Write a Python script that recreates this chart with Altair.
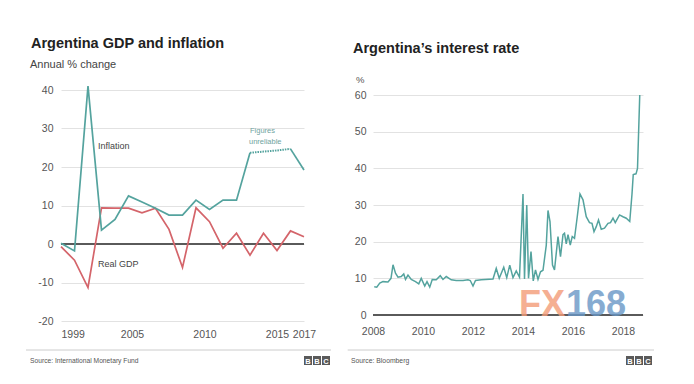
import altair as alt
import pandas as pd

# ---------------- data ----------------
gdp_years = list(range(1999, 2018))
inflation = [0.2, -1.8, 41.0, 3.6, 6.4, 12.5, 10.9, 9.3, 7.5, 7.5, 11.4, 9.0,
             11.4, 11.4, 23.7, 24.0, 24.3, 24.7, 19.2]
real_gdp = [-0.7, -4.2, -11.3, 9.4, 9.3, 9.3, 8.1, 9.3, 3.8, -6.1, 9.4, 5.8,
            -1.1, 2.8, -2.9, 2.8, -1.7, 3.4, 1.9]
unreliable_start, unreliable_end = 2013, 2016

rate_dates = [2008.05, 2008.15, 2008.27, 2008.4, 2008.6, 2008.72, 2008.8, 2008.9,
              2009.0, 2009.13, 2009.23, 2009.3, 2009.4, 2009.53, 2009.7, 2009.83,
              2009.93, 2010.07, 2010.16, 2010.27, 2010.37, 2010.53, 2010.69, 2010.8,
              2010.93, 2011.13, 2011.33, 2011.6, 2011.8, 2011.89, 2012.0, 2012.1,
              2012.33, 2012.8, 2012.93, 2013.05, 2013.23, 2013.35, 2013.47, 2013.6,
              2013.73, 2013.86, 2014.0, 2014.06, 2014.15, 2014.22, 2014.32, 2014.41,
              2014.5, 2014.6, 2014.7, 2014.8, 2014.93, 2015.0, 2015.08, 2015.18,
              2015.26, 2015.4, 2015.5, 2015.6, 2015.66, 2015.73, 2015.8, 2015.89,
              2015.97, 2016.06, 2016.17, 2016.28, 2016.4, 2016.53, 2016.66, 2016.76,
              2016.84, 2016.93, 2017.02, 2017.13, 2017.26, 2017.4, 2017.5, 2017.6,
              2017.69, 2017.86, 2018.0, 2018.13, 2018.27, 2018.36, 2018.41, 2018.52,
              2018.58, 2018.67]
rate_values = [7.7, 7.6, 8.7, 9.1, 9.0, 10.0, 13.7, 11.4,
               10.3, 10.5, 11.2, 9.7, 10.9, 9.7, 9.1, 8.5,
               10.0, 7.9, 9.1, 7.6, 9.7, 9.6, 10.7, 9.7,
               10.5, 9.6, 9.4, 9.4, 9.6, 9.4, 7.9, 9.4,
               9.6, 9.8, 12.7, 10.0, 13.0, 10.2, 13.6, 10.2,
               12.0, 10.3, 33.0, 9.8, 30.0, 10.0, 17.3, 9.3,
               12.3, 9.7, 11.8, 12.2, 19.0, 28.5, 25.5, 13.6,
               12.3, 21.4, 15.9, 21.9, 22.3, 19.4, 21.9, 19.1,
               21.4, 20.9, 26.8, 33.0, 31.4, 26.8, 25.2, 25.0,
               22.7, 24.1, 25.9, 23.4, 23.7, 25.0, 25.2, 26.4,
               25.2, 27.3, 26.8, 26.4, 25.5, 33.0, 38.3, 38.5,
               40.0, 60.0]

gdp_ticks_x = [1999, 2005, 2010, 2015, 2017]
gdp_ticks_y = [-20, -10, 0, 10, 20, 30, 40]
rate_ticks_x = [2008, 2010, 2012, 2014, 2016, 2018]
rate_ticks_y = [0, 10, 20, 30, 40, 50, 60]

# ---------------- styles ----------------
FONT = "Liberation Sans, Arial, sans-serif"
TEAL = "#54a39e"
RED = "#d4646a"
GRID = "#e2e2e2"
ZERO = "#5a5a5a"

gdp_df = pd.DataFrame({"year": gdp_years, "value": real_gdp})
inf_rows = []
for y, v in zip(gdp_years, inflation):
    if y <= unreliable_start:
        inf_rows.append({"year": y, "value": v, "seg": "a", "style": "solid"})
    if y >= unreliable_end:
        inf_rows.append({"year": y, "value": v, "seg": "b", "style": "solid"})
    if unreliable_start <= y <= unreliable_end:
        inf_rows.append({"year": y, "value": v, "seg": "c", "style": "dotted"})
inf_df = pd.DataFrame(inf_rows)
rate_df = pd.DataFrame({"date": rate_dates, "value": rate_values})
zero_df = pd.DataFrame({"value": [0]})


def label(text, x, y, size=10, color="#444", weight="normal", font=FONT,
          align="left", opacity=1.0):
    return alt.Chart(pd.DataFrame({"t": [text]})).mark_text(
        align=align, baseline="alphabetic", fontSize=size, color=color,
        fontWeight=weight, font=font, opacity=opacity
    ).encode(text="t:N", x=alt.value(x), y=alt.value(y))


def box(x1, x2, y1, y2):
    return alt.Chart(pd.DataFrame({"a": [0]})).mark_rect(color="#5a5a5a").encode(
        x=alt.value(x1), x2=alt.value(x2), y=alt.value(y1), y2=alt.value(y2))


def bbc(x0, y0):
    layers = []
    for i, ch in enumerate("BBC"):
        bx = x0 + i * 9
        layers.append(box(bx, bx + 8, y0, y0 + 9))
        layers.append(label(ch, bx + 4, y0 + 7.5, size=7.5, color="white",
                            weight="bold", align="center"))
    return layers


def hrule(x1, x2, y, color="#cccccc", opacity=1.0):
    return alt.Chart(pd.DataFrame({"a": [0]})).mark_rule(
        color=color, strokeWidth=1, strokeOpacity=opacity
    ).encode(x=alt.value(x1), x2=alt.value(x2), y=alt.value(y))


# ---------------- left panel ----------------
xl = alt.X("year:Q", title=None,
           scale=alt.Scale(domain=[1999, 2017], nice=False, zero=False),
           axis=alt.Axis(values=gdp_ticks_x, labelExpr="datum.value + ''",
                         grid=False, domain=False, ticks=False, labelPadding=8,
                         labelFlush=False,
                         labelAlign={"expr": "datum.value == 1999 ? 'left' : 'center'"},
                         labelOffset={"expr": "datum.value == 2005 ? -10 : (datum.value == 2010 ? -5 : 0)"}))
yl = alt.Y("value:Q", title=None,
           scale=alt.Scale(domain=[-20, 40], nice=False),
           axis=alt.Axis(values=gdp_ticks_y, labelExpr="datum.value + ''",
                         grid=True, domain=False, ticks=False, labelPadding=8))

zero_l = alt.Chart(zero_df).mark_rule(color=ZERO, strokeWidth=2).encode(y=yl)
gdp_line = alt.Chart(gdp_df).mark_line(color=RED, strokeWidth=1.7).encode(x=xl, y=yl)
inf_solid = alt.Chart(inf_df).transform_filter("datum.style == 'solid'").mark_line(
    color=TEAL, strokeWidth=1.7).encode(x=xl, y=yl, detail="seg:N")
inf_dot = alt.Chart(inf_df).transform_filter("datum.style == 'dotted'").mark_line(
    color=TEAL, strokeWidth=2, strokeDash=[1.5, 1]).encode(x=xl, y=yl)

left_layers = [
    hrule(0, 10, -82, opacity=0),
    zero_l, gdp_line, inf_solid, inf_dot,
    label("Argentina GDP and inflation", -30, -42, size=14.5, color="#222", weight="bold"),
    label("Annual % change", -31, -22.5, size=11, color="#444"),
    label("Inflation", 37, 59, size=9, color="#444"),
    label("Real GDP", 37, 177, size=9, color="#444"),
    label("Figures", 189, 43, size=7.5, color="#6fa3a0"),
    label("unreliable", 188, 54, size=7.5, color="#6fa3a0"),
    hrule(-35, 270, 260),
    label("Source: International Monetary Fund", -31, 273, size=6.7, color="#555"),
] + bbc(243, 266)

left = alt.layer(*left_layers).properties(width=243, height=231)

# ---------------- right panel ----------------
# plot area starts 5px above the 60 gridline
rate_top = 60 + 5 * 60 / 220
xr = alt.X("date:Q", title=None,
           scale=alt.Scale(domain=[2008, 2018.8], nice=False, zero=False),
           axis=alt.Axis(values=rate_ticks_x, labelExpr="datum.value + ''",
                         grid=False, domain=False, ticks=False, labelPadding=11,
                         labelFlush=False))
yr = alt.Y("value:Q", title=None,
           scale=alt.Scale(domain=[0, rate_top], nice=False),
           axis=alt.Axis(values=rate_ticks_y, labelExpr="datum.value + ''",
                         grid=True, domain=False, ticks=False, labelPadding=7))

zero_r = alt.Chart(zero_df).mark_rule(color=ZERO, strokeWidth=2).encode(y=yr)
rate_line = alt.Chart(rate_df).mark_line(color=TEAL, strokeWidth=1.5).encode(x=xr, y=yr)

right_layers = [
    hrule(0, 10, -82, opacity=0),
    zero_r, rate_line,
    label("FX", 146, 226, size=36, color="#f39c78", weight="bold", opacity=0.8),
    label("168", 193, 226, size=36, color="#6897c6", weight="bold", opacity=0.8),
    label("Argentina\u2019s interest rate", -20, -37, size=14.5, color="#222", weight="bold"),
    label("%", -17, -7, size=9.5, color="#555"),
    hrule(-25.3, 281, 260),
    label("Source: Bloomberg", -22, 273, size=6.8, color="#555"),
] + bbc(253, 266)

right = alt.layer(*right_layers).properties(width=270, height=225)

chart = alt.hconcat(left, right, spacing=15).properties(
    padding={"left": 17, "top": 0, "right": 0, "bottom": 0}
).configure_view(stroke=None).configure_axis(
    labelFont=FONT, labelFontSize=10.5, labelColor="#555",
    gridColor=GRID, gridWidth=1
)

chart.save("out.html", embed_options={"renderer": "svg", "actions": False})
